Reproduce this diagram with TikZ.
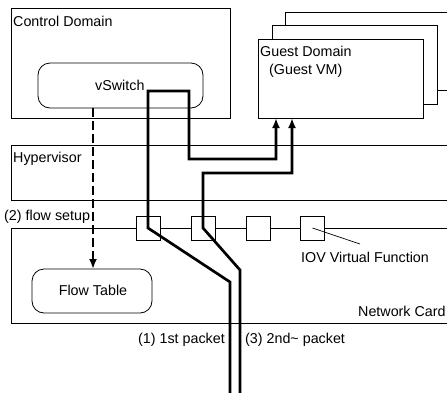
\documentclass[tikz,border=0pt]{standalone}
\usepackage{fontspec}
\setmainfont{Liberation Sans}
\usetikzlibrary{arrows.meta,positioning,shapes,calc}

\tikzset{
  box/.style={draw, line width=0.8pt, inner sep=0pt, outer sep=0pt, anchor=north west, fill=white},
  rbox/.style={box, rounded corners=12pt},
  vfbox/.style={draw, line width=0.8pt, minimum size=24pt, inner sep=0pt, outer sep=0pt, fill=white},
  lbl/.style={anchor=base west, inner sep=0pt, font=\fontsize{14.3}{17}\selectfont},
  pkt/.style={line width=2.7pt, -{Latex[length=10pt,width=8pt]}},
  setup/.style={line width=2.4pt, dash pattern=on 9pt off 4pt, -{Latex[length=10pt,width=8pt]}}
}

\begin{document}
\begin{tikzpicture}[x=1pt,y=-1pt]
    \useasboundingbox (0,0) rectangle (447,392);
    \clip (0,0) rectangle (447,392);

    % domains
    \node[box, minimum width=219pt, minimum height=110pt] (ctrl) at (11,8) {};
    \node[lbl] at (13,26.5) {Control Domain};
    \node[rbox, minimum width=165pt, minimum height=45pt] (vsw) at (38,63) {};
    \node[lbl] (vswt) at (95,90) {vSwitch};

    \node[box, line width=0.9pt, minimum width=200pt, minimum height=78pt] (g3) at (285,12) {};
    \node[box, line width=0.9pt, minimum width=165pt, minimum height=79pt] (g2) at (272,25) {};
    \node[box, line width=0.9pt, minimum width=165pt, minimum height=79pt] (g1) at (258,39) {};
    \node[lbl] at (260,56) {Guest Domain};
    \node[lbl] at (269,74) {(Guest VM)};

    % hypervisor and card
    \node[box, minimum width=460pt, minimum height=55pt] (hyp) at (11,145) {};
    \node[lbl] at (13,162) {Hypervisor};
    \node[box, minimum width=460pt, minimum height=95pt] (card) at (11,228) {};
    \node[lbl] at (358,316) {Network Card};
    \node[rbox, minimum width=120pt, minimum height=44pt] (ftab) at (32,269) {};
    \node[lbl, anchor=base] at (93,295) {Flow Table};

    \node[vfbox] (vf1) at (148,228) {};
    \node[vfbox] (vf2) at (203,228) {};
    \node[vfbox] (vf3) at (258,228) {};
    \node[vfbox] (vf4) at (312.5,228) {};
    \coordinate (iovpin) at (360,244);
    \draw[line width=0.7pt] (vf4.center) -- (iovpin);
    \node[lbl] at (301,262) {IOV Virtual Function};

    % flow setup
    \draw[setup] (vsw.south west -| 93,0) -- (ftab.north west -| 93,0);
    \node[lbl] at (4,220) {(2) flow setup};

    % packets
    \coordinate (in1) at (230,400);
    \coordinate (in2) at (240,400);
    \draw[pkt] (in1) -- (230,282) -- (vf1.center) -- (148,91) -- (189,91) -- (189,159)
        -- (276,159) -- (g1.south west -| 276,0);
    \draw[pkt] (in2) -- (240,270) -- (vf2.center) -- (203,173) -- (292,173)
        -- (g1.south west -| 292,0);
    \node[lbl] at (138,343) {(1) 1st packet};
    \node[lbl] at (245,343) {(3) 2nd\textasciitilde{} packet};
\end{tikzpicture}
\end{document}
